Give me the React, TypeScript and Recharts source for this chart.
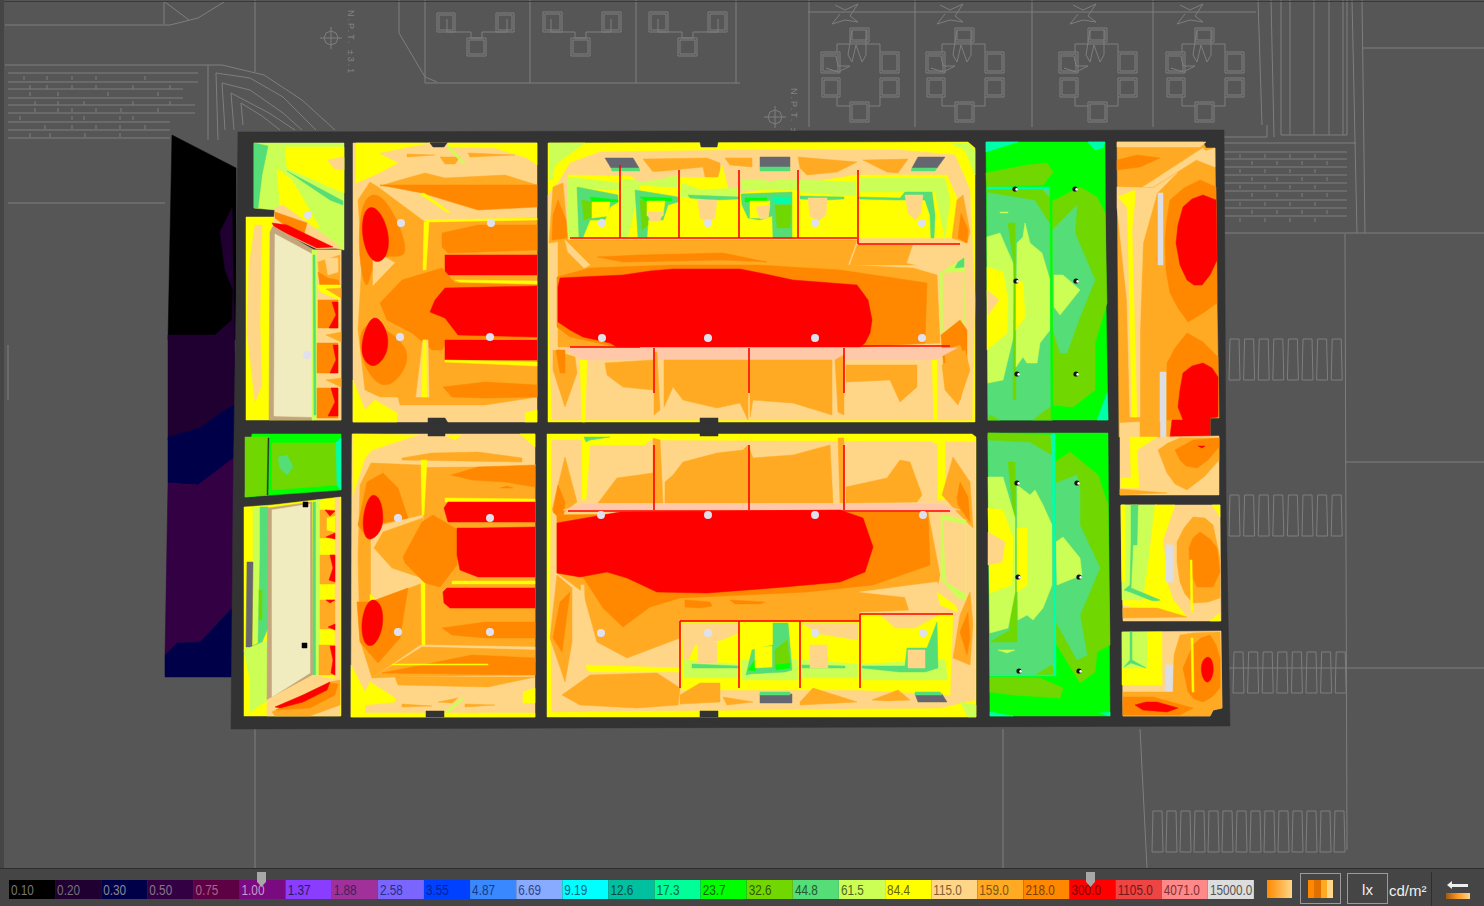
import { BarChart, Bar, Cell, LabelList, Scatter, ScatterChart, XAxis, YAxis } from 'recharts';

// colour scale
const scaleLabels = ['0.10', '0.20', '0.30', '0.50', '0.75', '1.00', '1.37', '1.88', '2.58', '3.55', '4.87', '6.69', '9.19', '12.6', '17.3', '23.7', '32.6', '44.8', '61.5', '84.4', '115.0', '159.0', '218.0', '300.0', '1105.0', '4071.0', '15000.0'];
const scaleColours = ['#000000', '#200030', '#000048', '#330044', '#5e0044', '#7a0a80', '#8a3cff', '#a0309a', '#7a66ff', '#0040ff', '#3a88ff', '#88aaff', '#00ffff', '#00c0a0', '#00ff99', '#00ff00', '#70d800', '#55dd77', '#ccff55', '#ffff00', '#ffd688', '#ffaa22', '#ff8800', '#ff0000', '#ee4444', '#ff8888', '#dddddd'];
const scaleText = ['#777777', '#776f7c', '#888899', '#887788', '#aa6688', '#cc99cc', '#2a1a66', '#402060', '#2a2a88', '#002299', '#143a88', '#334488', '#006688', '#004d40', '#006640', '#006600', '#305800', '#205a30', '#4d6620', '#666600', '#806030', '#805510', '#804000', '#800000', '#701818', '#803030', '#555555'];
const scaleCells = scaleLabels.map((label) => ({ label, span: 1 }));

const BLACK = '#000000', DARK = '#200030', NAVY = '#000048', PURPLE = '#330044';
const G23 = '#00ff00', G32 = '#70d800', G44 = '#55dd77', G61 = '#ccff55', Y84 = '#ffff00', B115 = '#ffd688', O159 = '#ffaa22', O218 = '#ff8800', RED = '#ff0000';
const TEAL = '#00ffaa', GREY = '#dddde4', SKY = '#666670', SLAB = '#333333', PINK = '#ffc8a8', MIRROR = '#f0ecc0', FRAME = '#c4a67c';

type Zone = [string, number[], number?];

const exterior: Zone[] = [
  [BLACK, [172, 135, 236, 168, 236, 340, 168, 340]],
  [DARK, [232, 208, 220, 232, 225, 270, 233, 290, 232, 320, 215, 335, 168, 335, 168, 440, 200, 440, 236, 405]],
  [NAVY, [236, 404, 222, 412, 200, 428, 168, 437, 168, 483, 198, 485, 236, 457]],
  [PURPLE, [168, 483, 198, 485, 236, 456, 236, 604, 200, 642, 177, 643, 165, 655]],
  [NAVY, [165, 655, 177, 643, 200, 642, 236, 604, 236, 677, 165, 677]],
];

const slab: Zone[] = [
  [SLAB, [238, 132, 705, 131, 1224, 130, 1225, 300, 1226, 500, 1230, 726, 231, 729, 233, 500, 236, 300]],
];

const roomOne: Zone[] = [
  [G61, [254, 143, 344, 143, 344, 250, 300, 240, 275, 210, 254, 208]],
  [G44, [254, 143, 268, 146, 262, 175, 258, 208, 254, 208]],
  [Y84, [285, 147, 344, 147, 344, 193, 287, 168]],
  [B115, [327, 160, 344, 157, 344, 170, 335, 169]],
  [Y84, [277, 168, 292, 180, 320, 228, 300, 224, 280, 207]],
  [G44, [287, 171, 343, 201, 343, 205, 330, 200]],
  [Y84, [246, 217, 275, 217, 275, 232, 314, 250, 341, 250, 341, 420, 246, 420]],
  [B115, [255, 225, 262, 225, 260, 325, 262, 385, 255, 402, 247, 332, 249, 265]],
  [B115, [275, 208, 283, 205, 342, 248, 317, 249, 273, 228]],
  [O218, [275, 212, 307, 223, 303, 238, 287, 227, 275, 218]],
  [RED, [272, 223, 287, 225, 333, 247, 317, 248, 275, 228]],
  [FRAME, [270, 232, 273, 226, 314, 250, 314, 420, 269, 420]],
  [MIRROR, [275, 234, 312, 254, 312, 417, 274, 416]],
  [G61, [312, 250, 317, 250, 317, 420, 312, 420]],
  [B115, [317, 250, 341, 250, 341, 420, 317, 420]],
  [O159, [318, 262, 340, 255, 340, 285, 320, 285]],
  [B115, [325, 258, 338, 258, 338, 272, 328, 275]],
  [O218, [318, 272, 328, 278, 338, 280, 340, 285, 320, 285]],
  [Y84, [317, 285, 340, 285, 340, 300, 320, 292]],
  [O159, [326, 289, 341, 288, 341, 298]],
  [O218, [318, 300, 338, 300, 338, 328, 318, 328]],
  [RED, [332, 302, 338, 302, 338, 328, 329, 328, 336, 315]],
  [O159, [326, 335, 341, 332, 341, 342]],
  [O218, [317, 343, 338, 343, 338, 373, 317, 373]],
  [RED, [333, 345, 338, 345, 338, 373, 330, 373, 336, 360]],
  [O159, [326, 380, 341, 378, 341, 387]],
  [O218, [317, 388, 338, 388, 338, 418, 317, 418]],
  [RED, [331, 388, 338, 388, 338, 416, 328, 416, 335, 402]],
  [G44, [313, 255, 315, 255, 316, 415, 314, 415]],
];

const roomTwo: Zone[] = [
  [B115, [353, 143, 537, 143, 537, 422, 353, 422]],
  [Y84, [356, 143, 430, 143, 378, 153, 398, 163, 375, 175, 356, 183]],
  [Y84, [448, 143, 537, 143, 537, 165, 527, 158, 495, 148, 448, 147]],
  [Y84, [353, 380, 365, 410, 375, 400, 397, 413, 397, 422, 353, 422]],
  [Y84, [525, 413, 537, 410, 537, 422, 525, 422]],
  [O159, [370, 182, 378, 187, 425, 222, 537, 218, 537, 397, 380, 397, 365, 390, 358, 330, 362, 260, 358, 200]],
  [O159, [400, 180, 425, 173, 445, 178, 505, 175, 537, 185, 380, 186]],
  [O159, [398, 397, 537, 397, 485, 405, 400, 405]],
  [O159, [407, 154, 435, 155, 407, 157]],
  [O159, [468, 153, 515, 155, 470, 157]],
  [O159, [440, 157, 460, 157, 455, 164, 445, 164]],
  [G61, [448, 145, 465, 163, 463, 164, 448, 148]],
  [O218, [380, 185, 537, 185, 537, 207, 478, 210, 422, 193]],
  [Y84, [420, 194, 424, 193, 450, 212, 448, 213]],
  [Y84, [425, 220, 537, 218, 537, 220, 428, 222]],
  [Y84, [424, 222, 429, 222, 426, 270, 423, 270]],
  [O218, [360, 205, 373, 190, 392, 205, 415, 266, 373, 247, 368, 300, 358, 260], 1],
  [O218, [358, 330, 373, 320, 412, 347, 404, 374, 383, 392, 362, 366], 1],
  [B115, [373, 250, 395, 263, 373, 286]],
  [O159, [373, 286, 395, 263, 423, 271, 442, 268, 412, 333, 373, 325]],
  [RED, [363, 208, 377, 205, 390, 232, 388, 258, 373, 266, 361, 240], 1],
  [RED, [361, 340, 373, 310, 388, 330, 389, 352, 375, 370, 362, 360], 1],
  [O218, [442, 233, 478, 225, 537, 225, 537, 250, 448, 253, 442, 247]],
  [RED, [445, 255, 537, 255, 537, 275, 445, 275]],
  [O218, [380, 303, 402, 280, 442, 268, 455, 283, 537, 285, 537, 338, 448, 340, 442, 350, 432, 350, 412, 333, 387, 320]],
  [Y84, [455, 280, 537, 281, 537, 284, 460, 282]],
  [RED, [430, 312, 435, 300, 445, 288, 537, 286, 537, 337, 458, 335, 445, 318]],
  [RED, [445, 340, 537, 340, 537, 360, 445, 360]],
  [Y84, [445, 360, 537, 362, 537, 366, 445, 362]],
  [B115, [423, 340, 428, 340, 429, 397, 416, 397]],
  [Y84, [423, 340, 426, 340, 427, 397, 422, 397]],
  [O218, [443, 387, 485, 382, 537, 385, 537, 397, 485, 398, 452, 397]],
];

const roomTwoLower: Zone[] = [
  [B115, [352, 434, 535, 434, 535, 717, 351, 717]],
  [Y84, [353, 434, 418, 435, 372, 450, 365, 458, 353, 495]],
  [Y84, [520, 434, 535, 434, 535, 447]],
  [Y84, [445, 435, 462, 435, 455, 440]],
  [Y84, [351, 665, 365, 692, 370, 682, 395, 698, 395, 702, 365, 705, 365, 717, 351, 717]],
  [Y84, [365, 713, 535, 713, 535, 717, 365, 717]],
  [Y84, [523, 692, 535, 688, 535, 703, 523, 703]],
  [O159, [402, 458, 432, 453, 478, 452, 522, 458, 522, 462, 402, 460]],
  [O159, [358, 558, 360, 485, 371, 463, 420, 465, 535, 465, 535, 662, 420, 645, 372, 678, 360, 640]],
  [B115, [422, 463, 426, 463, 426, 467, 535, 466, 535, 464]],
  [B115, [371, 528, 423, 515, 424, 582, 371, 602]],
  [Y84, [371, 524, 380, 524, 371, 532]],
  [Y84, [370, 594, 375, 599, 370, 602]],
  [O159, [374, 548, 383, 532, 423, 518, 422, 578, 392, 568]],
  [Y84, [421, 460, 427, 460, 424, 515, 422, 515]],
  [Y84, [421, 582, 425, 582, 425, 645, 422, 645]],
  [O218, [451, 475, 478, 467, 535, 465, 535, 487, 505, 482, 472, 480]],
  [O218, [500, 488, 513, 488, 507, 486]],
  [Y84, [445, 498, 535, 499, 535, 502, 445, 502]],
  [RED, [444, 508, 448, 502, 535, 502, 535, 522, 448, 522]],
  [O218, [358, 525, 367, 482, 383, 473, 398, 488, 408, 518, 372, 525, 365, 535]],
  [O218, [357, 602, 370, 602, 408, 588, 400, 638, 378, 663, 360, 642]],
  [RED, [361, 520, 370, 491, 381, 498, 384, 520, 380, 534, 366, 544], 1],
  [RED, [360, 622, 369, 596, 382, 603, 384, 625, 376, 646, 364, 647], 1],
  [O218, [403, 557, 422, 522, 433, 515, 458, 530, 457, 565, 440, 587, 425, 583, 405, 563]],
  [RED, [457, 528, 478, 528, 535, 527, 535, 577, 478, 577, 460, 570, 457, 555]],
  [Y84, [452, 581, 535, 581, 535, 584, 452, 584]],
  [RED, [443, 592, 447, 588, 535, 588, 535, 608, 450, 608, 444, 603]],
  [O218, [442, 628, 485, 622, 535, 622, 535, 638, 485, 638, 452, 635]],
  [B115, [422, 645, 535, 647, 535, 650, 420, 648]],
  [O159, [372, 678, 422, 647, 535, 650, 535, 675, 395, 677]],
  [O218, [382, 673, 472, 655, 535, 658, 535, 675]],
  [Y84, [392, 664, 488, 664, 488, 665, 392, 665]],
  [O159, [395, 677, 535, 677, 488, 687, 398, 685]],
  [O159, [438, 702, 458, 698, 452, 703]],
  [O159, [402, 704, 432, 706, 402, 707]],
  [O159, [465, 704, 495, 705, 465, 707]],
  [G61, [445, 712, 462, 698, 463, 700, 448, 713]],
];

const centreTop: Zone[] = [
  [Y84, [548, 143, 968, 142, 975, 148, 975, 422, 548, 422]],
  [G61, [549, 143, 585, 143, 555, 165, 552, 180, 549, 180]],
  [G61, [950, 143, 968, 143, 975, 150, 975, 175, 965, 150]],
  [B115, [548, 195, 560, 180, 570, 163, 600, 152, 740, 150, 900, 150, 955, 155, 970, 190, 975, 300, 972, 420, 552, 420, 549, 330]],
  [O159, [643, 159, 707, 158, 720, 163, 720, 177, 705, 177, 703, 167, 653, 172]],
  [O159, [725, 158, 752, 158, 752, 167, 730, 165]],
  [O159, [798, 157, 857, 162, 837, 172, 807, 175, 800, 168]],
  [O159, [863, 160, 908, 159, 898, 173, 887, 172]],
  [Y84, [568, 175, 718, 178, 722, 165, 730, 195, 856, 175, 947, 175, 958, 200, 958, 238, 568, 238]],
  [G61, [568, 177, 620, 183, 620, 190, 580, 188, 581, 237, 568, 238]],
  [G61, [622, 180, 679, 176, 679, 188, 640, 185, 628, 237, 622, 237]],
  [B115, [625, 172, 678, 172, 665, 178, 640, 182]],
  [G61, [682, 183, 700, 190, 739, 188, 739, 197, 680, 197]],
  [G61, [742, 180, 798, 180, 798, 190, 742, 190]],
  [B115, [745, 172, 795, 172, 770, 182]],
  [G61, [800, 180, 856, 182, 856, 196, 800, 192]],
  [G61, [860, 178, 945, 178, 950, 200, 945, 238, 935, 192, 860, 192]],
  // cubicle one
  [G44, [577, 187, 618, 195, 618, 202, 610, 207, 605, 220, 590, 220, 583, 237, 579, 237]],
  [G32, [582, 200, 592, 202, 592, 217, 584, 220]],
  [G23, [590, 197, 618, 200, 618, 202, 592, 202]],
  [Y84, [592, 202, 610, 202, 608, 216, 592, 218]],
  // cubicle two
  [G44, [635, 190, 678, 197, 678, 202, 668, 205, 663, 220, 648, 220, 647, 237, 638, 237]],
  [G32, [640, 200, 648, 202, 648, 225, 642, 230]],
  [G23, [640, 197, 672, 198, 672, 201, 645, 201]],
  [Y84, [647, 201, 665, 201, 663, 216, 647, 216]],
  [B115, [647, 212, 663, 212, 660, 221, 650, 221]],
  // cubicle three
  [G44, [688, 195, 739, 197, 739, 199, 715, 200, 690, 198]],
  [B115, [698, 200, 717, 200, 715, 218, 708, 222, 700, 218]],
  // cubicle four
  [G44, [741, 194, 792, 192, 792, 205, 775, 215, 760, 220, 748, 218, 742, 205]],
  [G44, [772, 205, 792, 205, 792, 238, 773, 238]],
  [G32, [775, 205, 791, 205, 790, 228, 777, 228]],
  [G23, [745, 198, 767, 198, 767, 202, 745, 202]],
  [TEAL, [772, 197, 791, 197, 790, 203, 775, 203]],
  [Y84, [750, 201, 770, 201, 768, 218, 750, 218]],
  [B115, [756, 207, 770, 205, 768, 218, 760, 219]],
  // cubicle five
  [G44, [800, 196, 844, 197, 844, 199, 825, 200, 800, 199]],
  [B115, [808, 198, 827, 198, 826, 215, 818, 221, 810, 216]],
  // cubicle six
  [G44, [858, 197, 900, 198, 905, 192, 932, 192, 935, 215, 934, 238, 931, 238, 930, 215, 925, 200, 895, 200, 858, 199]],
  [B115, [905, 195, 923, 195, 921, 213, 915, 220, 908, 213]],
  // skylights
  [SKY, [605, 158, 633, 158, 639, 168, 611, 168]],
  [G44, [611, 168, 639, 168, 640, 171, 612, 171]],
  [SKY, [760, 157, 790, 157, 790, 167, 760, 167]],
  [G44, [760, 167, 790, 167, 790, 171, 760, 171]],
  [SKY, [918, 157, 945, 157, 937, 168, 912, 168]],
  [G44, [912, 168, 937, 168, 935, 171, 911, 171]],
  // lobes
  [O159, [549, 243, 553, 187, 563, 183, 568, 240]],
  [O218, [552, 240, 553, 215, 558, 200, 566, 220, 567, 238]],
  [O159, [952, 238, 957, 200, 963, 195, 970, 232, 967, 243]],
  [O218, [958, 238, 961, 213, 968, 230, 967, 243]],
  // hall
  [O159, [558, 240, 857, 240, 848, 265, 913, 268, 937, 275, 940, 343, 857, 347, 558, 347]],
  [O159, [857, 245, 913, 245, 920, 265, 850, 265]],
  [B115, [913, 245, 960, 245, 940, 270, 907, 263]],
  [B115, [565, 240, 573, 248, 590, 265, 584, 268, 568, 252]],
  [O218, [597, 257, 640, 255, 723, 253, 767, 262, 723, 260, 623, 262]],
  [O218, [557, 277, 590, 268, 673, 265, 757, 265, 840, 270, 927, 283, 925, 343, 860, 347, 617, 347, 570, 337, 557, 327]],
  [RED, [558, 287, 560, 278, 580, 277, 623, 275, 650, 271, 673, 269, 740, 269, 765, 274, 793, 280, 857, 285, 868, 300, 872, 320, 870, 333, 865, 343, 860, 347, 617, 347, 610, 343, 583, 337, 570, 330, 558, 322]],
  [G61, [940, 273, 964, 258, 965, 322, 941, 333]],
  [B115, [943, 273, 964, 272, 964, 320, 943, 331]],
  [G44, [958, 262, 964, 258, 964, 267, 955, 268]],
  [O218, [941, 335, 960, 320, 967, 330, 967, 370, 960, 400, 950, 395, 944, 370]],
  [O159, [944, 350, 960, 345, 965, 360, 958, 395, 950, 390]],
  // lower cubicles
  [PINK, [563, 348, 957, 348, 935, 360, 583, 360]],
  [Y84, [580, 360, 587, 360, 585, 422, 582, 422]],
  [Y84, [932, 360, 937, 360, 937, 420, 934, 420]],
  [O159, [553, 350, 575, 357, 577, 373, 565, 407, 553, 370]],
  [O218, [556, 350, 565, 350, 565, 373, 560, 373]],
  [O159, [605, 363, 653, 360, 653, 390, 623, 387, 607, 375]],
  [O159, [664, 360, 748, 360, 748, 420, 740, 403, 717, 408, 683, 400, 673, 387, 664, 407]],
  [O159, [750, 360, 832, 360, 832, 415, 793, 403, 753, 400, 750, 417]],
  [O159, [846, 365, 917, 365, 917, 387, 900, 402, 890, 380, 846, 382]],
  [O159, [654, 352, 657, 352, 660, 410, 654, 415]],
  [O159, [835, 360, 844, 355, 844, 415, 838, 412]],
  [O159, [942, 365, 965, 350, 970, 370, 958, 405, 945, 390]],
];

const centreBottom: Zone[] = [
  [Y84, [547, 434, 972, 434, 976, 437, 976, 717, 547, 717]],
  [B115, [552, 440, 975, 442, 975, 700, 940, 708, 552, 712, 550, 600]],
  [Y84, [582, 437, 653, 437, 645, 445, 590, 445, 586, 500, 582, 500]],
  [G44, [584, 437, 610, 437, 590, 440, 586, 442]],
  [Y84, [925, 437, 945, 437, 945, 500, 938, 500, 938, 445]],
  [O159, [552, 510, 565, 457, 577, 502, 560, 515]],
  [O218, [553, 512, 558, 485, 565, 502, 563, 522]],
  [O159, [942, 495, 953, 457, 970, 482, 973, 528, 957, 512]],
  [O218, [957, 498, 960, 482, 968, 497, 970, 522, 958, 505]],
  [O159, [550, 638, 557, 575, 572, 588, 572, 642, 565, 682]],
  [O218, [553, 638, 560, 602, 570, 592, 562, 652]],
  [O159, [960, 615, 970, 592, 973, 625, 970, 665, 953, 658]],
  [O218, [960, 632, 968, 612, 970, 638, 967, 655]],
  [O159, [598, 503, 617, 478, 653, 473, 653, 503]],
  [O159, [665, 503, 665, 482, 673, 475, 683, 462, 717, 453, 743, 450, 748, 445, 753, 458, 793, 455, 830, 445, 833, 503]],
  [O159, [846, 503, 846, 487, 887, 478, 900, 460, 910, 462, 922, 495, 917, 502]],
  [O159, [653, 438, 660, 440, 663, 503, 653, 503]],
  [O159, [838, 438, 844, 438, 844, 503, 840, 503]],
  [PINK, [563, 510, 583, 504, 940, 504, 960, 510]],
  [O159, [557, 515, 928, 512, 940, 575, 937, 590, 860, 600, 860, 622, 680, 622, 680, 638, 627, 658, 597, 642, 583, 592, 557, 573]],
  [O218, [857, 512, 928, 512, 930, 565, 873, 585, 807, 592, 680, 598, 650, 607, 623, 627, 603, 608, 583, 577, 557, 573, 557, 515]],
  [RED, [557, 523, 620, 512, 840, 510, 863, 518, 873, 547, 865, 572, 840, 582, 773, 588, 707, 593, 657, 592, 627, 578, 607, 572, 580, 577, 557, 573]],
  [O218, [685, 600, 710, 602, 712, 606, 700, 608, 685, 607]],
  [O218, [730, 600, 765, 602, 760, 604, 735, 604]],
  [O159, [860, 593, 910, 596, 912, 610, 860, 612]],
  [B115, [860, 592, 937, 582, 955, 610, 910, 613, 905, 597]],
  [Y84, [937, 592, 955, 605, 958, 612, 940, 605]],
  [G61, [941, 515, 966, 520, 966, 600, 958, 598, 941, 580]],
  [B115, [943, 520, 965, 524, 965, 593, 946, 582]],
  [Y84, [583, 665, 680, 668, 680, 672, 590, 672]],
  [B115, [581, 585, 584, 585, 586, 668, 582, 668]],
  // lower cubicles
  [Y84, [681, 622, 860, 622, 862, 690, 681, 690]],
  [B115, [682, 623, 738, 623, 738, 633, 722, 640, 695, 645, 684, 668]],
  [B115, [801, 623, 858, 623, 858, 640, 820, 634]],
  [G61, [684, 660, 738, 664, 738, 678, 684, 678]],
  [G61, [742, 660, 798, 660, 798, 680, 742, 680]],
  [G61, [802, 660, 858, 664, 858, 678, 802, 678]],
  [Y84, [862, 614, 953, 614, 950, 695, 862, 690]],
  [B115, [880, 614, 940, 614, 915, 628, 895, 628]],
  [G61, [862, 664, 945, 660, 948, 680, 862, 680]],
  [G44, [692, 664, 738, 666, 738, 668, 692, 668]],
  [G44, [746, 675, 752, 650, 773, 645, 773, 623, 788, 623, 792, 670, 785, 672, 750, 674]],
  [G32, [775, 650, 787, 640, 790, 665, 775, 668]],
  [G23, [748, 670, 755, 660, 758, 665, 755, 671]],
  [G23, [776, 665, 790, 663, 790, 668, 776, 670]],
  [Y84, [755, 648, 772, 646, 772, 667, 755, 668]],
  [G44, [802, 665, 845, 666, 845, 668, 802, 668]],
  [G44, [862, 666, 905, 666, 907, 648, 927, 648, 937, 622, 938, 668, 925, 672, 900, 672, 862, 668]],
  [B115, [698, 642, 717, 642, 717, 663, 698, 663]],
  [B115, [810, 645, 827, 645, 828, 668, 810, 668]],
  [B115, [908, 650, 925, 650, 925, 668, 908, 668]],
  [SKY, [607, 695, 638, 695, 635, 703, 605, 703]],
  [G44, [609, 692, 638, 692, 638, 695, 607, 695]],
  [SKY, [760, 694, 792, 694, 792, 703, 760, 703]],
  [G44, [760, 692, 790, 692, 790, 695, 760, 695]],
  [SKY, [915, 694, 942, 694, 947, 702, 918, 702]],
  [G44, [915, 692, 940, 692, 942, 695, 915, 695]],
  [O159, [562, 695, 590, 675, 657, 673, 680, 688, 678, 705, 637, 708, 580, 705]],
  [O159, [700, 683, 720, 683, 720, 702, 680, 704, 680, 695]],
  [O159, [723, 697, 753, 702, 727, 705]],
  [O159, [800, 702, 813, 688, 857, 702, 800, 705]],
  [O159, [872, 700, 898, 690, 910, 700, 887, 701]],
  [G61, [960, 702, 976, 705, 976, 717, 968, 717]],
];

const roomOneLower: Zone[] = [
  [G23, [252, 434, 341, 434, 341, 490, 245, 497, 247, 470]],
  [G32, [245, 437, 268, 437, 268, 495, 245, 497]],
  [G32, [272, 443, 337, 443, 337, 485, 272, 490]],
  [G44, [278, 457, 287, 455, 293, 467, 287, 475, 280, 468]],
  [TEAL, [336, 442, 341, 438, 341, 490, 337, 485]],
  [SLAB, [268, 438, 269, 438, 268, 495, 267, 495]],
  [Y84, [244, 507, 272, 505, 341, 497, 341, 716, 244, 716]],
  [G61, [253, 507, 268, 507, 268, 630, 253, 645]],
  [G44, [260, 507, 268, 507, 268, 628, 260, 647, 245, 655, 245, 650, 258, 643, 260, 558]],
  [G32, [259, 590, 262, 590, 262, 620, 259, 620]],
  [SKY, [247, 562, 253, 562, 252, 647, 246, 647]],
  [G61, [244, 650, 268, 640, 268, 700, 250, 712, 250, 680]],
  [FRAME, [268, 508, 312, 502, 313, 675, 267, 700]],
  [MIRROR, [272, 510, 310, 504, 310, 673, 272, 697]],
  [G44, [313, 502, 316, 502, 316, 675, 313, 675]],
  [G61, [316, 500, 320, 500, 320, 680, 316, 680]],
  [B115, [335, 498, 340, 498, 340, 692, 335, 692]],
  [O159, [320, 510, 335, 510, 335, 538, 320, 538]],
  [RED, [325, 510, 335, 511, 330, 516]],
  [RED, [326, 537, 335, 533, 335, 539]],
  [Y84, [327, 518, 335, 516, 335, 532, 327, 530]],
  [O159, [320, 555, 335, 555, 335, 584, 320, 584]],
  [RED, [330, 555, 335, 555, 335, 582, 329, 580, 333, 568]],
  [O159, [320, 600, 335, 600, 335, 629, 320, 629]],
  [RED, [326, 600, 335, 600, 330, 603]],
  [RED, [328, 627, 335, 624, 335, 630]],
  [O159, [319, 645, 335, 645, 335, 675, 319, 675]],
  [RED, [330, 646, 335, 646, 335, 675, 331, 673, 333, 660]],
  [B115, [267, 700, 313, 675, 340, 680, 340, 716, 267, 716]],
  [O159, [272, 712, 303, 695, 330, 682, 340, 680, 340, 705, 310, 716, 275, 716]],
  [O218, [276, 710, 303, 697, 330, 683, 338, 684, 335, 695, 310, 708]],
  [RED, [275, 707, 303, 695, 330, 682, 327, 690, 303, 702, 280, 708]],
];

const columnTop: Zone[] = [
  [G23, [986, 142, 1105, 142, 1106, 300, 1108, 420, 988, 420]],
  [TEAL, [986, 142, 1018, 142, 986, 152]],
  [TEAL, [1088, 142, 1105, 142, 1103, 148, 1095, 150]],
  [TEAL, [1097, 420, 1107, 393, 1108, 420]],
  [G32, [986, 173, 1027, 165, 1047, 163, 1053, 172, 1043, 185, 987, 187]],
  [G32, [1051, 202, 1080, 187, 1097, 197, 1105, 213, 1107, 303, 1095, 343, 1095, 390, 1073, 407, 1052, 405]],
  [G44, [987, 188, 1051, 188, 1052, 420, 988, 420]],
  [G32, [987, 188, 1040, 188, 1050, 198, 1051, 225, 1035, 200, 987, 192]],
  [G32, [1033, 420, 1050, 407, 1052, 420]],
  [G32, [988, 420, 990, 415, 1000, 420]],
  [G44, [1052, 230, 1077, 205, 1075, 233, 1095, 280, 1080, 317, 1067, 353, 1060, 353, 1052, 327]],
  [G61, [1054, 275, 1063, 275, 1080, 290, 1060, 315, 1054, 307]],
  [G61, [987, 237, 1000, 233, 1013, 263, 1015, 330, 1003, 380, 988, 383]],
  [Y84, [987, 267, 1003, 272, 1008, 300, 1007, 333, 987, 350]],
  [B115, [987, 290, 999, 300, 988, 315]],
  [G32, [1008, 223, 1015, 223, 1016, 400, 1013, 400, 1014, 265]],
  [G61, [1017, 243, 1023, 237, 1025, 223, 1030, 243, 1042, 253, 1050, 280, 1050, 330, 1040, 343, 1037, 363, 1027, 363, 1023, 357, 1016, 367]],
  [Y84, [1016, 280, 1023, 283, 1025, 317, 1016, 330]],
  [G61, [1000, 212, 1008, 212, 1008, 213, 1000, 213]],
  [TEAL, [987, 187, 1051, 187, 1051, 189, 987, 189]],
  [G23, [1050, 187, 1052, 187, 1053, 420, 1051, 420]],
];

const columnBottom: Zone[] = [
  [G23, [988, 433, 1108, 433, 1110, 716, 990, 716]],
  [TEAL, [990, 712, 1013, 716, 990, 716]],
  [TEAL, [1100, 713, 1110, 712, 1110, 716]],
  [G44, [988, 435, 1053, 435, 1055, 675, 990, 675]],
  [G32, [988, 433, 1050, 435, 1052, 455, 1030, 442, 988, 440]],
  [G32, [990, 677, 1040, 678, 1063, 688, 1060, 698, 1013, 695, 990, 692]],
  [G32, [1035, 675, 1052, 665, 1055, 675]],
  [G32, [1055, 462, 1070, 452, 1098, 475, 1108, 505, 1110, 645, 1097, 652, 1095, 672, 1080, 683, 1055, 642]],
  [G44, [1056, 483, 1077, 475, 1080, 488, 1080, 525, 1100, 568, 1080, 615, 1087, 655, 1077, 660, 1056, 622]],
  [G61, [1056, 542, 1063, 537, 1080, 558, 1082, 575, 1057, 585]],
  [G32, [1008, 462, 1015, 462, 1017, 642, 990, 642, 1010, 630, 1014, 520]],
  [G61, [988, 477, 1003, 477, 1015, 518, 1015, 592, 1008, 628, 990, 633]],
  [Y84, [988, 508, 1003, 510, 1013, 538, 1012, 585, 990, 593]],
  [B115, [988, 532, 1005, 542, 1002, 562, 988, 565]],
  [G61, [1017, 485, 1030, 495, 1035, 490, 1043, 505, 1052, 525, 1052, 585, 1043, 608, 1033, 620, 1027, 615, 1018, 620]],
  [Y84, [1017, 528, 1027, 528, 1027, 585, 1017, 592]],
  [G61, [998, 650, 1015, 650, 1007, 653]],
  [TEAL, [1052, 434, 1055, 434, 1056, 675, 1054, 675]],
  [TEAL, [990, 675, 1055, 675, 1055, 676, 990, 676]],
];

const eastRooms: Zone[] = [
  [O159, [1117, 142, 1203, 142, 1206, 148, 1215, 148, 1217, 300, 1219, 418, 1210, 418, 1210, 437, 1119, 437]],
  [B115, [1117, 142, 1206, 142, 1200, 147, 1117, 147]],
  [O218, [1117, 160, 1137, 155, 1160, 158, 1140, 167, 1117, 170]],
  [B115, [1143, 187, 1203, 148, 1207, 153, 1153, 187]],
  [B115, [1200, 153, 1215, 148, 1215, 167, 1197, 160]],
  [B115, [1117, 187, 1153, 188, 1177, 173, 1157, 193, 1143, 243, 1140, 330, 1140, 417, 1130, 417, 1127, 300, 1117, 207]],
  [Y84, [1127, 200, 1135, 200, 1132, 230, 1137, 417, 1132, 417, 1128, 233]],
  [Y84, [1118, 197, 1135, 190, 1135, 200, 1127, 207]],
  [O218, [1165, 240, 1167, 218, 1170, 200, 1184, 188, 1200, 180, 1216, 187, 1217, 283, 1217, 303, 1203, 313, 1188, 322, 1178, 308, 1170, 293, 1166, 270]],
  [RED, [1176, 243, 1178, 225, 1183, 207, 1192, 199, 1203, 195, 1216, 200, 1217, 260, 1210, 275, 1202, 285, 1194, 285, 1187, 280, 1180, 265]],
  [GREY, [1158, 193, 1163, 193, 1163, 265, 1158, 265]],
  [O218, [1167, 363, 1175, 348, 1187, 333, 1203, 342, 1218, 357, 1218, 417, 1210, 418, 1167, 420]],
  [RED, [1178, 407, 1180, 390, 1183, 373, 1192, 366, 1203, 363, 1212, 368, 1218, 377, 1218, 417, 1210, 418, 1210, 437, 1170, 437, 1172, 420, 1183, 420]],
  [GREY, [1160, 372, 1166, 372, 1166, 440, 1160, 440]],
  [B115, [1120, 423, 1140, 422, 1160, 437, 1219, 436, 1219, 495, 1120, 495]],
  [O159, [1140, 422, 1160, 422, 1160, 437, 1140, 437]],
  [O159, [1158, 450, 1168, 443, 1180, 438, 1219, 438, 1219, 460, 1205, 476, 1187, 490, 1175, 484, 1167, 473]],
  [O218, [1175, 450, 1193, 440, 1219, 438, 1219, 447, 1208, 460, 1197, 468, 1186, 466, 1180, 460]],
  [RED, [1198, 446, 1205, 446, 1202, 448]],
  [Y84, [1130, 437, 1157, 437, 1137, 450, 1139, 488, 1121, 488, 1121, 478, 1131, 478]],
  [O159, [1120, 489, 1167, 493, 1120, 495]],
  // middle east room
  [B115, [1121, 505, 1220, 505, 1221, 621, 1123, 621]],
  [G61, [1121, 505, 1157, 505, 1150, 540, 1157, 600, 1122, 600]],
  [Y84, [1155, 505, 1175, 505, 1163, 540, 1168, 585, 1175, 605, 1143, 602, 1150, 550]],
  [Y84, [1121, 505, 1125, 505, 1125, 582, 1122, 582]],
  [G44, [1131, 505, 1138, 505, 1137, 545, 1131, 545]],
  [G44, [1131, 545, 1133, 545, 1131, 588, 1160, 600, 1155, 602, 1130, 592, 1124, 590, 1130, 585]],
  [Y84, [1123, 600, 1175, 602, 1187, 617, 1123, 605]],
  [O159, [1123, 608, 1157, 608, 1187, 617, 1123, 618]],
  [O159, [1177, 542, 1184, 528, 1193, 517, 1205, 518, 1213, 525, 1220, 558, 1220, 598, 1208, 602, 1193, 603, 1185, 594, 1180, 582, 1177, 562]],
  [O218, [1189, 548, 1193, 538, 1200, 532, 1210, 539, 1217, 548, 1220, 572, 1213, 587, 1197, 587, 1190, 572]],
  [GREY, [1166, 545, 1173, 545, 1173, 582, 1166, 582]],
  [Y84, [1212, 505, 1220, 505, 1220, 517]],
  [Y84, [1210, 621, 1220, 613, 1220, 621]],
  [Y84, [1190, 560, 1192, 560, 1193, 612, 1191, 612]],
  // south east room
  [B115, [1122, 632, 1221, 631, 1222, 708, 1213, 710, 1210, 716, 1123, 716]],
  [Y84, [1147, 632, 1162, 632, 1162, 685, 1122, 685, 1122, 668]],
  [G61, [1122, 632, 1147, 632, 1147, 668, 1122, 668]],
  [G44, [1130, 632, 1132, 632, 1132, 660, 1146, 668, 1131, 663, 1124, 667, 1130, 660]],
  [GREY, [1166, 665, 1173, 665, 1173, 693, 1166, 693]],
  [O159, [1174, 655, 1180, 635, 1193, 633, 1220, 632, 1222, 708, 1213, 710, 1210, 716, 1123, 716, 1123, 692, 1173, 692]],
  [O218, [1193, 645, 1201, 638, 1210, 635, 1216, 645, 1220, 658, 1220, 688, 1212, 697, 1203, 702, 1194, 699, 1188, 692, 1183, 668]],
  [RED, [1201, 660, 1211, 654, 1215, 672, 1208, 686, 1201, 676], 1],
  [O218, [1123, 697, 1153, 697, 1193, 708, 1180, 715, 1123, 715]],
  [RED, [1135, 705, 1146, 702, 1157, 702, 1178, 708, 1167, 712, 1143, 710]],
  [Y84, [1191, 638, 1193, 638, 1194, 692, 1192, 692]],
];

const notches: Zone[] = [
  [SLAB, [430, 143, 447, 143, 444, 147, 433, 147]],
  [SLAB, [428, 418, 445, 418, 448, 423, 428, 423]],
  [SLAB, [700, 142, 718, 142, 717, 147, 701, 147]],
  [SLAB, [700, 418, 718, 418, 718, 423, 700, 423]],
  [SLAB, [428, 433, 445, 433, 445, 436, 428, 436]],
  [SLAB, [700, 433, 718, 433, 718, 436, 700, 436]],
  [SLAB, [426, 711, 444, 711, 444, 717, 426, 717]],
  [SLAB, [700, 711, 718, 711, 718, 717, 700, 717]],
  [BLACK, [303, 502, 308, 502, 308, 507, 303, 507]],
  [BLACK, [302, 643, 307, 643, 307, 648, 302, 648]],
];

const zones: Zone[] = [...exterior, ...slab, ...roomOne, ...roomTwo, ...centreTop, ...centreBottom, ...roomOneLower, ...roomTwoLower, ...columnTop, ...columnBottom, ...eastRooms, ...notches];

// partitions drawn as thin strokes
const redWalls = [
  [570, 238, 857, 238], [858, 244, 960, 244], [620, 165, 620, 238], [679, 170, 679, 238], [739, 170, 739, 238], [798, 170, 798, 238], [858, 170, 858, 244],
  [570, 347, 640, 347], [847, 346, 950, 346], [654, 348, 654, 393], [749, 348, 749, 393], [844, 348, 844, 393],
  [568, 511, 950, 511], [654, 445, 654, 510], [749, 445, 749, 510], [844, 445, 844, 510], [680, 621, 860, 621], [680, 621, 680, 688], [739, 621, 739, 688], [800, 621, 800, 688], [860, 614, 860, 688], [860, 614, 953, 614],
];

const lampsPale = [[401, 223], [491, 223], [400, 337], [490, 337], [602, 338], [708, 338], [815, 338], [922, 338], [602, 223], [708, 223], [815, 223], [922, 223], [601, 515], [708, 515], [815, 515], [923, 515], [601, 633], [708, 633], [815, 633], [923, 633], [398, 518], [490, 518], [398, 632], [490, 632], [308, 215], [307, 355]];
const sensorDots = [[1015, 189], [1075, 189], [1016, 281], [1076, 281], [1017, 374], [1076, 374], [1017, 483], [1077, 483], [1018, 577], [1079, 577], [1019, 671], [1079, 671]];

// background drawing
const brickRows = [73, 82, 89, 98, 105, 113, 122, 130, 138];
const brickEnds = [198, 198, 183, 183, 195, 195, 170, 170, 170];
const brickTicks = [[24, 0], [47, 0], [72, 0], [96, 0], [145, 0], [30, 1], [47, 1], [72, 1], [96, 1], [133, 1], [170, 1], [30, 2], [58, 2], [108, 2], [158, 2], [35, 3], [58, 3], [84, 3], [133, 3], [170, 3], [35, 4], [58, 4], [72, 4], [96, 4], [121, 4], [158, 4], [20, 5], [72, 5], [84, 5], [120, 5], [133, 5], [45, 6], [72, 6], [96, 6], [120, 6], [145, 6], [30, 7], [50, 7], [85, 7], [120, 7]];
const curbLines = [
  [5, 65, 222, 65, 264, 75, 302, 100, 335, 130], [216, 73, 250, 78, 283, 97, 316, 130], [222, 83, 250, 90, 283, 113, 302, 130], [231, 93, 269, 113, 295, 130], [241, 103, 262, 116, 280, 130],
  [208, 65, 208, 140], [216, 73, 218, 140], [222, 83, 225, 130], [231, 93, 234, 130], [241, 103, 243, 125],
  [5, 25, 125, 25, 170, 25, 198, 18, 224, 2], [164, 2, 164, 24], [165, 2, 189, 20], [255, 0, 255, 72],
  [399, 0, 399, 33, 425, 77, 437, 82], [425, 0, 425, 83, 740, 83], [530, 0, 530, 83], [636, 0, 636, 83], [736, 0, 736, 83],
  [808, 12, 1256, 12], [809, 0, 809, 127], [915, 0, 915, 127], [1032, 0, 1032, 127], [1153, 0, 1153, 127],
  [1258, 0, 1262, 125], [1267, 125, 1267, 137, 1224, 137], [1271, 0, 1274, 137], [1352, 0, 1357, 233], [1224, 143, 1356, 143],
  [1281, 0, 1281, 135, 1347, 135, 1347, 0], [1290, 0, 1290, 135], [1314, 0, 1314, 135], [1329, 0, 1329, 135], [1343, 0, 1343, 135],
  [1362, 48, 1484, 48], [1362, 0, 1365, 233], [1224, 233, 1484, 233], [1345, 234, 1347, 850], [1345, 462, 1484, 462], [1225, 668, 1484, 668],
  [255, 729, 255, 868], [1003, 729, 1003, 868], [1140, 729, 1147, 868], [8, 345, 8, 400], [8, 203, 165, 203],
];
const gardenRows = [152, 159, 167, 175, 183, 191, 200, 208, 216];
const chairBoxes = [[437, 13, 18, 19], [496, 13, 18, 19], [467, 38, 19, 18], [543, 12, 19, 20], [602, 12, 19, 20], [571, 38, 19, 18], [649, 12, 19, 20], [708, 12, 19, 20], [678, 38, 19, 18]];
const diningOffsets = [0, 105, 238, 345];
const diningChairs = [[850, 28, 19, 14], [821, 52, 19, 21], [880, 52, 19, 21], [822, 78, 18, 19], [880, 78, 19, 19], [850, 102, 19, 20]];
const parkingRows = [[1229, 339, 8, 14.6], [1229, 495, 8, 14.6], [1233, 652, 8, 14.6], [1152, 811, 14, 14]];
const crosshairs = [[331, 38], [775, 117]];
const levelNotes = [{ x: 348, y: 10, t: 'N.P.T. ±3.1' }, { x: 791, y: 88, t: 'N.P.T. ±3' }];

const toPoints = (xy: number[]) => {
  const pts: { x: number; y: number }[] = [];
  for (let i = 0; i < xy.length; i += 2) pts.push({ x: xy[i], y: xy[i + 1] });
  return pts;
};

const joinLines = (lines: number[][]) => {
  const pts: { x: number | null; y: number | null }[] = [];
  lines.forEach((line) => {
    pts.push(...toPoints(line));
    pts.push({ x: null, y: null });
  });
  return pts;
};

const box = (x: number, y: number, w: number, h: number) => [x, y, x + w, y, x + w, y + h, x, y + h, x, y];

const cadLines: number[][] = [
  ...curbLines,
  ...brickRows.map((y, i) => [8, y, brickEnds[i], y]),
  ...brickTicks.map(([x, r]) => [x, brickRows[r] + 3, x, brickRows[r] + 7]),
  ...gardenRows.map((y) => [1224, y, 1347, y]),
  ...gardenRows.flatMap((y, i) => [1240, 1265, 1290, 1315].map((x) => [x + (i % 2) * 12, y + 2, x + (i % 2) * 12, y + 6])),
  ...chairBoxes.map(([x, y, w, h]) => box(x, y, w, h)),
  ...chairBoxes.map(([x, y, w, h]) => box(x + 2, y + 2, w - 4, h - 4)),
  ...chairBoxes.filter((_, i) => i % 3 === 2).map(([x, y]) => [x - 20, y - 19, x - 20, y - 6, x + 4, y - 6, x + 4, y, x + 15, y, x + 15, y - 6, x + 40, y - 6, x + 40, y - 19]),
  ...diningOffsets.flatMap((dx) => diningChairs.flatMap(([x, y, w, h]) => [box(x + dx, y, w, h), box(x + dx + 2, y + 2, w - 4, h - 4)])),
  ...diningOffsets.flatMap((dx) => [
    [837 + dx, 52, 837 + dx, 44, 880 + dx, 44, 880 + dx, 52],
    [837 + dx, 97, 837 + dx, 106, 850 + dx, 106],
    [869 + dx, 106, 880 + dx, 106, 880 + dx, 97],
    [852 + dx, 30, 848 + dx, 55, 852 + dx, 62, 856 + dx, 45, 862 + dx, 62, 866 + dx, 55, 866 + dx, 30],
    [824 + dx, 56, 836 + dx, 56, 838 + dx, 66, 850 + dx, 66, 838 + dx, 72, 826 + dx, 68],
    [835 + dx, 5, 845 + dx, 10, 858 + dx, 4, 850 + dx, 16, 858 + dx, 22, 845 + dx, 20, 832 + dx, 24, 840 + dx, 14],
  ]),
  ...crosshairs.flatMap(([x, y]) => [[x - 11, y, x + 11, y], [x, y - 11, x, y + 11], [x - 7, y, x - 5, y - 5, x, y - 7, x + 5, y - 5, x + 7, y, x + 5, y + 5, x, y + 7, x - 5, y + 5, x - 7, y]]),
  ...parkingRows.flatMap(([x0, y0, n, step]) => Array.from({ length: n }, (_, i) => {
    const x = x0 + i * step;
    return [x + 1, y0, x + 10, y0, x + 11, y0 + 41, x, y0 + 41, x + 1, y0];
  })),
];

const axisW = 1484;
const axisH = 906;
const noMark = () => <g />;

function LampMark(props: any) {
  return <circle cx={props.cx} cy={props.cy} r={4} fill="#dfe2ee" />;
}
function SensorMark(props: any) {
  return (
    <g>
      <circle cx={props.cx} cy={props.cy} r={2.6} fill="#111111" />
      <circle cx={props.cx + 1.6} cy={props.cy + 0.4} r={1.3} fill="#ffffff" />
    </g>
  );
}
function NoteMark(props: any) {
  return (
    <text x={props.cx} y={props.cy} transform={`rotate(90 ${props.cx} ${props.cy})`} fontSize={9} letterSpacing={2} fill="#858585" fontFamily="Liberation Sans">
      {props.payload.t}
    </text>
  );
}

function ScaleLabel(props: any) {
  return (
    <text transform={`translate(${props.x + 2} ${props.y + 15}) scale(0.84 1)`} fontSize={14} fill={scaleText[props.index]} fontFamily="'Liberation Sans', sans-serif">
      {props.value}
    </text>
  );
}

function SliderPin({ left }: { left: number }) {
  return <div style={{ position: 'absolute', left, top: 872, width: 9, height: 15, background: '#a8a8a8', clipPath: 'polygon(0 0, 100% 0, 100% 65%, 50% 100%, 0 65%)' }} />;
}

export default function App() {
  return (
    <div style={{ position: 'absolute', left: 0, top: 0, width: axisW, height: axisH, overflow: 'hidden', background: '#565656', fontFamily: "'Liberation Sans', sans-serif" }}>
      <ScatterChart width={axisW} height={axisH} margin={{ top: 0, right: 0, bottom: 0, left: 0 }} style={{ position: 'absolute', left: 0, top: 0 }}>
        <XAxis type="number" dataKey="x" domain={[0, axisW]} hide allowDataOverflow />
        <YAxis type="number" dataKey="y" domain={[0, axisH]} reversed hide allowDataOverflow />
        <Scatter data={joinLines(cadLines)} shape={noMark} line={{ stroke: '#7e7e7e', strokeWidth: 1, fill: 'none' }} lineType="joint" lineJointType="linear" isAnimationActive={false} />
        <Scatter data={levelNotes} shape={NoteMark} isAnimationActive={false} />
        {zones.map(([fill, xy, smooth], i) => (
          <Scatter key={i} data={toPoints(xy)} shape={noMark} line={{ fill, stroke: fill, strokeWidth: 0.5 }} lineType="joint" lineJointType={smooth ? 'basisClosed' : 'linearClosed'} isAnimationActive={false} />
        ))}
        <Scatter data={joinLines(redWalls)} shape={noMark} line={{ stroke: RED, strokeWidth: 1.6, fill: 'none' }} lineType="joint" lineJointType="linear" isAnimationActive={false} />
        <Scatter data={lampsPale.map(([x, y]) => ({ x, y }))} shape={LampMark} isAnimationActive={false} />
        <Scatter data={sensorDots.map(([x, y]) => ({ x, y }))} shape={SensorMark} isAnimationActive={false} />
      </ScatterChart>

      {/* top and left window edges */}
      <div style={{ position: 'absolute', left: 0, top: 1, width: axisW, height: 1, background: '#3a3a3a' }} />
      <div style={{ position: 'absolute', left: 0, top: 0, width: 4, height: 868, background: '#454545' }} />

      {/* toolbar */}
      <div style={{ position: 'absolute', left: 0, top: 868, width: axisW, height: 38, background: '#454545', borderTop: '1px solid #2e2e2e', boxSizing: 'border-box' }} />
      <div style={{ position: 'absolute', left: 9, top: 880 }}>
        <BarChart width={1245} height={19} data={scaleCells} margin={{ top: 0, right: 0, bottom: 0, left: 0 }} barCategoryGap={0}>
          <XAxis dataKey="label" hide />
          <YAxis domain={[0, 1]} hide />
          <Bar dataKey="span" isAnimationActive={false}>
            {scaleCells.map((c, i) => (
              <Cell key={c.label} fill={scaleColours[i]} />
            ))}
            <LabelList dataKey="label" content={ScaleLabel} />
          </Bar>
        </BarChart>
      </div>
      <SliderPin left={257} />
      <SliderPin left={1086} />

      <div style={{ position: 'absolute', left: 1267, top: 880, width: 25, height: 18, background: 'linear-gradient(90deg, #ff8800, #ffd688)' }} />
      <div style={{ position: 'absolute', left: 1300, top: 873, width: 41, height: 31, border: '1px solid #9a9a9a', boxSizing: 'border-box' }} />
      <div style={{ position: 'absolute', left: 1308, top: 880, width: 25, height: 18, background: 'linear-gradient(90deg, #ff8800 0 25%, #e07000 25% 50%, #ffaa22 50% 75%, #ffd688 75%)' }} />
      <div style={{ position: 'absolute', left: 1347, top: 873, width: 41, height: 31, border: '1px solid #9a9a9a', boxSizing: 'border-box', color: '#f0f0f0', fontSize: 15, textAlign: 'center', lineHeight: '31px' }}>lx</div>
      <div style={{ position: 'absolute', left: 1389, top: 882, color: '#f0f0f0', fontSize: 15 }}>cd/m²</div>
      <div style={{ position: 'absolute', left: 1431, top: 872, width: 1, height: 34, background: '#2e2e2e' }} />
      <div style={{ position: 'absolute', left: 1450, top: 884, width: 18, height: 3, background: '#eeeeee' }} />
      <div style={{ position: 'absolute', left: 1447, top: 881, width: 0, height: 0, borderTop: '4px solid transparent', borderBottom: '4px solid transparent', borderRight: '5px solid #eeeeee' }} />
      <div style={{ position: 'absolute', left: 1446, top: 893, width: 24, height: 6, background: 'linear-gradient(90deg, #a05a10, #ff9922, #ffd688)' }} />
    </div>
  );
}
